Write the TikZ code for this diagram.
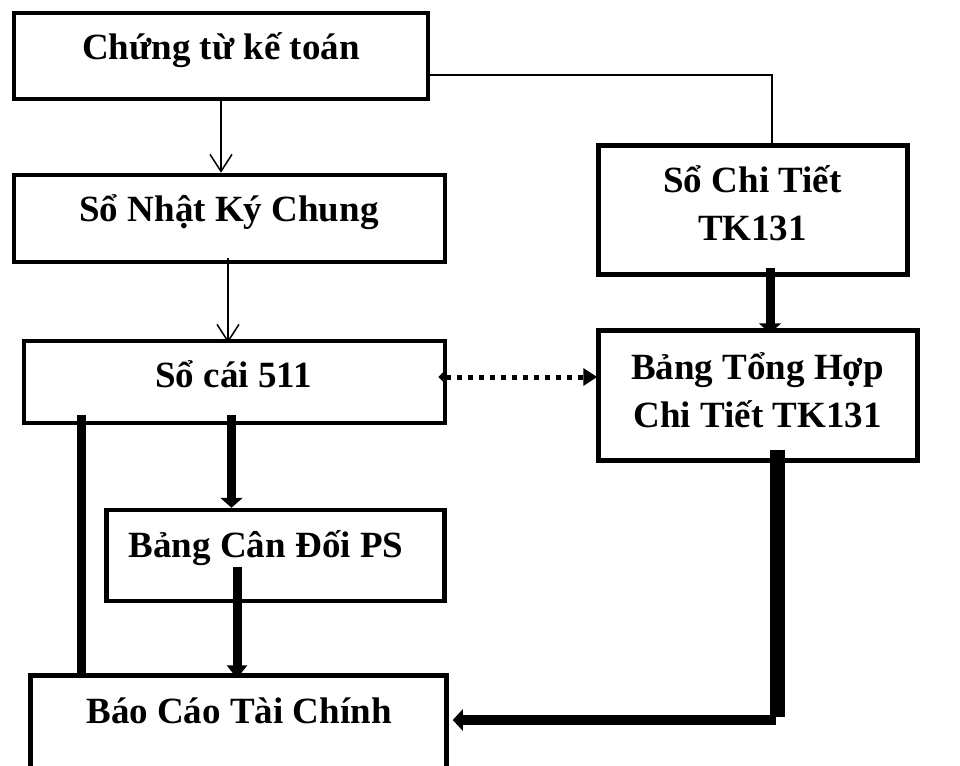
\documentclass[tikz,border=0pt]{standalone}
\usepackage{fontspec}
\setmainfont{Liberation Serif}
\usetikzlibrary{arrows.meta,calc}
\begin{document}
\begin{tikzpicture}[x=1pt,y=1pt,
  box/.style={draw=black,line width=4.5pt,rectangle,inner sep=0pt,outer sep=2.25pt},
  lbl/.style={font=\fontsize{37}{48}\selectfont\bfseries,align=center,inner sep=0pt,anchor=base},
  thinline/.style={draw=black,line width=1.5pt},
  thinarrow/.style={thinline,-{Straight Barb[length=17pt,width=22pt,line width=1.5pt]}},
  thickline/.style={draw=black,line width=9pt},
  thickarrow/.style={thickline,-{Triangle[length=10pt,width=22pt]}},
  dotarrow/.style={draw=black,line width=5pt,dash pattern=on 5pt off 6pt,
     {Triangle[length=8pt,width=15pt]}-{Triangle[length=14pt,width=17pt]}}
]
\useasboundingbox (0,0) rectangle (960,-765);
\clip (0,0) rectangle (960,-765);

% boxes
\node[box,minimum width=414pt,minimum height=86pt] (b1) at (221,-56) {};
\node[box,minimum width=431pt,minimum height=87pt] (b2) at (229.5,-218.5) {};
\node[box,minimum width=421pt,minimum height=82pt] (b3) at (234.5,-382) {};
\node[box,minimum width=309pt,minimum height=129pt] (b4) at (753,-210) {};
\node[box,minimum width=319pt,minimum height=130pt] (b5) at (758,-395.5) {};
\node[box,minimum width=338pt,minimum height=91pt] (b6) at (275.5,-555.5) {};
\node[box,minimum width=416pt,minimum height=104.5pt] (b7) at (238.5,-727.75) {};

% labels (base = baseline of the last line)
\node[lbl] (t1) at (221,-60) {Chứng từ kế toán};
\node[lbl] (t2) at (229,-221) {Sổ Nhật Ký Chung};
\node[lbl] (t3) at (233.5,-387) {Sổ cái 511};
\node[lbl] (t4) at (752.5,-240) {Sổ Chi Tiết\\TK131};
\node[lbl] (t5) at (757.5,-427) {Bảng Tổng Hợp\\Chi Tiết TK131};
\node[lbl] (t6) at (266,-557) {Bảng Cân Đối PS};
\node[lbl] (t7) at (239,-723) {Báo Cáo Tài Chính};

% connectors
\draw[thinarrow] (b1.south) -- (b1.south |- b2.north);
\draw[thinarrow] ($(b2.south)+(-1.5,6)$) -- ($(b2.south |- b3.north)+(-1.5,-4)$);
\draw[thinline] ($(b1.east)+(0,-19)$) -| ($(b4.north)+(19,0)$);
\draw[thickarrow] ($(b4.south)+(17,9)$) -- ($(b5.north)+(12,-5)$);
\draw[thickline] ($(b3.south)+(-153.5,10)$) -- ($(b7.north)+(-157.5,0)$);
\draw[thickarrow] ($(b3.south)+(-3,10)$) -- ($(b6.north)+(-44,0)$);
\draw[thickline,-{Triangle[length=13pt,width=20pt]}] ($(b6.south)+(-38.5,36)$) -- ($(b7.north)+(-1.5,-5)$);
\draw[dotarrow] ($(b3.east)+(-9,5)$) -- ($(b5.west)+(1,18.5)$);
\coordinate (k) at (777,-720);
\draw[draw=black,line width=15pt] ($(b5.south)+(19,13)$) -- ($(k)+(0,3)$);
\draw[draw=black,line width=10pt,-{Triangle[length=10pt,width=21pt]}] ($(k)+(-1,0)$) -- ($(b7.east)+(4,7.75)$);
\end{tikzpicture}
\end{document}
